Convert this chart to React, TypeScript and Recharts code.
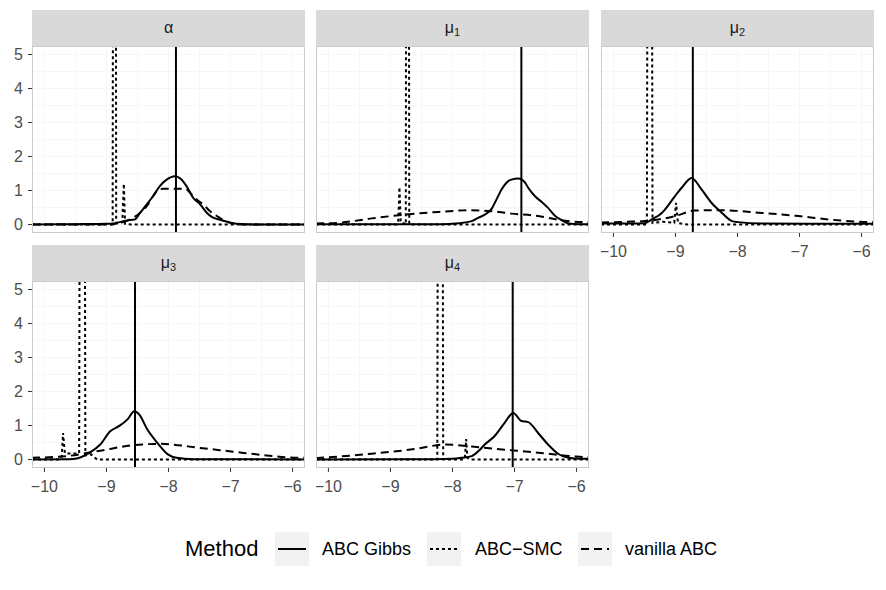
import { CartesianGrid, Line, LineChart, ReferenceLine, XAxis, YAxis } from "recharts";

// density curves per parameter, as [x, density] pairs
const alphaGibbs = [
  [-10.2, 0], [-9.5, 0.01], [-9.0, 0.02], [-8.89, 0.03], [-8.67, 0.12], [-8.54, 0.15], [-8.46, 0.34],
  [-8.35, 0.59], [-8.25, 0.83], [-8.14, 1.13], [-8.03, 1.32], [-7.9, 1.42], [-7.8, 1.34], [-7.71, 1.13],
  [-7.6, 0.78], [-7.49, 0.59], [-7.38, 0.34], [-7.28, 0.2], [-7.17, 0.14], [-7.05, 0.08], [-6.9, 0.02],
  [-6.6, 0], [-5.8, 0],
];
const alphaVanilla = [
  [-10.2, 0], [-9.0, 0], [-8.78, 0.05], [-8.57, 0.2], [-8.46, 0.34], [-8.35, 0.54], [-8.25, 0.83],
  [-8.16, 1.03], [-8.08, 1.05], [-7.9, 1.05], [-7.73, 1.05], [-7.65, 0.93], [-7.55, 0.74], [-7.44, 0.59],
  [-7.33, 0.39], [-7.22, 0.25], [-7.12, 0.13], [-7.01, 0.05], [-6.8, 0], [-5.8, 0],
];
const alphaSmc = [
  [-10.2, 0], [-8.9, 0], [-8.872, 45], [-8.843, 0.04], [-8.745, 0.06], [-8.72, 1.2], [-8.7, 0.02],
  [-8.6, 0], [-5.8, 0],
];

const mu1Gibbs = [
  [-10.2, 0.01], [-9.0, 0.01], [-8.2, 0.01], [-7.9, 0.04], [-7.69, 0.1], [-7.58, 0.2], [-7.48, 0.29],
  [-7.37, 0.46], [-7.29, 0.74], [-7.21, 1.03], [-7.13, 1.23], [-7.05, 1.32], [-6.94, 1.35], [-6.83, 1.23],
  [-6.78, 1.08], [-6.67, 0.83], [-6.56, 0.66], [-6.46, 0.49], [-6.35, 0.26], [-6.24, 0.13], [-6.13, 0.03],
  [-5.95, 0.01], [-5.8, 0.01],
];
const mu1Vanilla = [
  [-10.2, 0.03], [-9.84, 0.05], [-9.3, 0.18], [-8.77, 0.29], [-8.23, 0.37], [-7.69, 0.42], [-7.37, 0.39],
  [-7.05, 0.32], [-6.62, 0.25], [-6.19, 0.11], [-5.81, 0.07], [-5.8, 0.07],
];
const mu1Smc = [
  [-10.2, 0], [-8.9, 0], [-8.875, 0.05], [-8.855, 1.1], [-8.835, 0.06], [-8.76, 0.02], [-8.753, 0],
  [-8.725, 45], [-8.697, 0], [-5.8, 0],
];

const mu2Gibbs = [
  [-10.2, 0.03], [-9.7, 0.03], [-9.49, 0.04], [-9.38, 0.15], [-9.22, 0.34], [-9.17, 0.44], [-9.01, 0.83],
  [-8.9, 1.08], [-8.74, 1.37], [-8.58, 1.03], [-8.42, 0.64], [-8.25, 0.34], [-8.09, 0.1], [-7.99, 0.07],
  [-7.61, 0.03], [-6.5, 0.02], [-5.8, 0.02],
];
const mu2Vanilla = [
  [-10.2, 0.06], [-9.8, 0.08], [-9.49, 0.1], [-9.0, 0.25], [-8.69, 0.41], [-8.25, 0.42], [-7.61, 0.34],
  [-7.07, 0.26], [-6.54, 0.15], [-5.84, 0.07], [-5.8, 0.07],
];
const mu2Smc = [
  [-10.2, 0], [-9.46, 0], [-9.415, 45], [-9.37, 0.05], [-9.2, 0.08], [-9.02, 0.05], [-8.99, 0.64],
  [-8.96, 0.04], [-8.8, 0], [-5.8, 0],
];

const mu3Gibbs = [
  [-10.2, 0], [-9.6, 0.01], [-9.48, 0.03], [-9.27, 0.2], [-9.1, 0.44], [-8.94, 0.83], [-8.8, 0.98],
  [-8.66, 1.18], [-8.55, 1.42], [-8.47, 1.32], [-8.34, 0.88], [-8.18, 0.49], [-8.01, 0.15], [-7.87, 0.05],
  [-7.6, 0.01], [-5.8, 0],
];
const mu3Vanilla = [
  [-10.2, 0.05], [-9.64, 0.1], [-9.1, 0.26], [-8.57, 0.42], [-8.14, 0.46], [-7.49, 0.34], [-6.96, 0.23],
  [-6.42, 0.12], [-5.88, 0.05], [-5.8, 0.05],
];
const mu3Smc = [
  [-10.2, 0], [-9.75, 0], [-9.72, 0.1], [-9.7, 0.78], [-9.67, 0.18], [-9.44, 0.18], [-9.39, 45],
  [-9.34, 0.12], [-9.25, 0.15], [-9.15, 0], [-5.8, 0],
];

const mu4Gibbs = [
  [-10.2, 0], [-8.3, 0.01], [-8.01, 0.02], [-7.85, 0.05], [-7.69, 0.1], [-7.58, 0.25], [-7.48, 0.44],
  [-7.32, 0.69], [-7.16, 1.08], [-7.02, 1.37], [-6.89, 1.13], [-6.78, 1.1], [-6.62, 0.78], [-6.46, 0.44],
  [-6.3, 0.17], [-6.13, 0.05], [-5.95, 0.02], [-5.8, 0.02],
];
const mu4Vanilla = [
  [-10.2, 0.04], [-9.3, 0.17], [-8.6, 0.31], [-8.12, 0.44], [-7.69, 0.38], [-7.16, 0.29], [-6.62, 0.2],
  [-6.08, 0.1], [-5.81, 0.07], [-5.8, 0.07],
];
const mu4Smc = [
  [-10.2, 0], [-8.245, 0], [-8.197, 45], [-8.15, 0], [-7.82, 0], [-7.8, 0.05], [-7.78, 0.6], [-7.76, 0.05],
  [-7.7, 0], [-5.8, 0],
];

// true parameter values
const truth = { alpha: -7.88, mu1: -6.89, mu2: -8.72, mu3: -8.54, mu4: -7.03 };

const xTicks = [-10, -9, -8, -7, -6];
const yTicks = [0, 1, 2, 3, 4, 5];
const xGrid = [-10, -9.5, -9, -8.5, -8, -7.5, -7, -6.5, -6];
const yGrid = [0, 0.5, 1, 1.5, 2, 2.5, 3, 3.5, 4, 4.5, 5];

const methods = ["ABC Gibbs", "ABC\u2212SMC", "vanilla ABC"];
const dashes = ["", "3 3", "8 5"];

const FONT = "'Liberation Sans', Arial, Helvetica, sans-serif";
const PLOT_W = 273;
const PLOT_H = 187;
const STRIP_H = 36;
const Y_W = 32;
const X_H = 40;

const pts = (a: number[][]) => a.map(([x, y]) => ({ x, y }));
const minus = (v: number) => (v < 0 ? "\u2212" + Math.abs(v) : String(v));

type FacetProps = {
  label: React.ReactNode;
  left: number;
  top: number;
  gibbs: number[][];
  smc: number[][];
  vanilla: number[][];
  truth: number;
  showX: boolean;
  showY: boolean;
};

function Facet({ label, left, top, gibbs, smc, vanilla, truth, showX, showY }: FacetProps) {
  const tickStyle = { fill: "#4d4d4d", fontSize: 16, fontFamily: FONT };
  return (
    <>
      <div
        style={{
          position: "absolute",
          left,
          top,
          width: PLOT_W,
          height: STRIP_H,
          background: "#d9d9d9",
          color: "#1a1a1a",
          fontFamily: FONT,
          fontSize: 16,
          display: "flex",
          alignItems: "center",
          justifyContent: "center",
        }}
      >
        {label}
      </div>
      <div style={{ position: "absolute", left: showY ? left - Y_W : left, top: top + STRIP_H }}>
        <LineChart
          width={PLOT_W + (showY ? Y_W : 0)}
          height={PLOT_H + (showX ? X_H : 0)}
          margin={{ top: 0, right: 0, bottom: 0, left: 0 }}
        >
          <CartesianGrid stroke="#f6f6f6" verticalValues={xGrid} horizontalValues={yGrid} />
          <XAxis
            type="number"
            dataKey="x"
            domain={[-10.2, -5.8]}
            allowDataOverflow
            ticks={xTicks}
            interval={0}
            tickFormatter={minus}
            hide={!showX}
            height={X_H}
            axisLine={false}
            tickLine={{ stroke: "#333333" }}
            tickSize={4}
            tickMargin={9}
            tick={tickStyle}
          />
          <YAxis
            type="number"
            domain={[-0.25, 5.25]}
            allowDataOverflow
            ticks={yTicks}
            interval={0}
            hide={!showY}
            width={Y_W}
            axisLine={false}
            tickLine={{ stroke: "#333333" }}
            tickSize={4}
            tickMargin={5}
            tick={tickStyle}
          />
          <Line data={pts(gibbs)} dataKey="y" type="monotone" stroke="#000" strokeWidth={2} dot={false} isAnimationActive={false} />
          <Line data={pts(smc)} dataKey="y" type="linear" stroke="#000" strokeWidth={2} strokeDasharray={dashes[1]} dot={false} isAnimationActive={false} />
          <Line data={pts(vanilla)} dataKey="y" type="monotone" stroke="#000" strokeWidth={2} strokeDasharray={dashes[2]} dot={false} isAnimationActive={false} />
          <ReferenceLine x={truth} stroke="#000" strokeWidth={2} />
        </LineChart>
      </div>
      <div
        style={{
          position: "absolute",
          left,
          top: top + STRIP_H,
          width: PLOT_W,
          height: PLOT_H,
          border: "1px solid #cccccc",
          boxSizing: "border-box",
          pointerEvents: "none",
        }}
      />
    </>
  );
}

const mu = (i: number) => (
  <span>
    {"\u03bc"}
    <sub style={{ fontSize: 11, verticalAlign: "-3px" }}>{i}</sub>
  </span>
);

function LegendKey({ dash }: { dash: string }) {
  return (
    <svg width={34} height={34} style={{ background: "#f2f2f2", display: "block" }}>
      <line x1={3} y1={17} x2={31} y2={17} stroke="#000" strokeWidth={2} strokeDasharray={dash || undefined} />
    </svg>
  );
}

export default function App() {
  const keyLefts = [275, 427, 578];
  const labelLefts = [322, 475, 625];
  return (
    <div style={{ position: "absolute", left: 0, top: 0, width: 886, height: 590, background: "#fff", overflow: "hidden" }}>
      <Facet label={"\u03b1"} left={32} top={10} gibbs={alphaGibbs} smc={alphaSmc} vanilla={alphaVanilla} truth={truth.alpha} showX={false} showY />
      <Facet label={mu(1)} left={316} top={10} gibbs={mu1Gibbs} smc={mu1Smc} vanilla={mu1Vanilla} truth={truth.mu1} showX={false} showY={false} />
      <Facet label={mu(2)} left={601} top={10} gibbs={mu2Gibbs} smc={mu2Smc} vanilla={mu2Vanilla} truth={truth.mu2} showX showY={false} />
      <Facet label={mu(3)} left={32} top={245} gibbs={mu3Gibbs} smc={mu3Smc} vanilla={mu3Vanilla} truth={truth.mu3} showX showY />
      <Facet label={mu(4)} left={316} top={245} gibbs={mu4Gibbs} smc={mu4Smc} vanilla={mu4Vanilla} truth={truth.mu4} showX showY={false} />

      <div style={{ position: "absolute", left: 185, top: 535, fontFamily: FONT, fontSize: 22, color: "#000", lineHeight: "28px" }}>
        Method
      </div>
      {methods.map((m, i) => (
        <div key={m}>
          <div style={{ position: "absolute", left: keyLefts[i], top: 532 }}>
            <LegendKey dash={dashes[i]} />
          </div>
          <div style={{ position: "absolute", left: labelLefts[i], top: 538, fontFamily: FONT, fontSize: 18, color: "#000", lineHeight: "22px" }}>
            {m}
          </div>
        </div>
      ))}
    </div>
  );
}
